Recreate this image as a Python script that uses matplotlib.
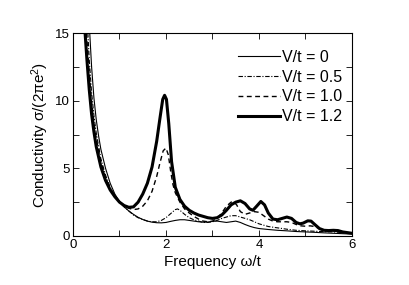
import numpy as np
import matplotlib
matplotlib.use('Agg')
import matplotlib.pyplot as plt

plt.rcParams['font.family'] = ['Liberation Sans', 'DejaVu Sans']
plt.rcParams['mathtext.fontset'] = 'custom'
plt.rcParams['mathtext.rm'] = 'Liberation Sans'
plt.rcParams['mathtext.it'] = 'Liberation Sans'

# V/t = 0
w_v0 = [0.36, 0.40, 0.45, 0.50, 0.55, 0.60, 0.70, 0.80, 0.90, 1.00, 1.10, 1.20, 1.30,
        1.40, 1.50, 1.60, 1.70, 1.80, 1.90, 2.00, 2.10, 2.20, 2.30, 2.40, 2.50, 2.60,
        2.70, 2.80, 2.90, 3.00, 3.10, 3.20, 3.30, 3.40, 3.50, 3.60, 3.70, 3.80, 3.90,
        4.00, 4.20, 4.40, 4.60, 4.80, 5.00, 5.20, 5.40, 5.60, 5.80, 6.00]
s_v0 = [15.0, 12.5, 10.2, 8.6, 7.4, 6.4, 5.0, 3.9, 3.1, 2.55, 2.15, 1.85, 1.6,
        1.38, 1.22, 1.1, 1.02, 0.98, 0.97, 1.0, 1.08, 1.15, 1.2, 1.2, 1.15, 1.1,
        1.05, 1.02, 1.03, 1.08, 1.1, 1.05, 1.0, 1.05, 1.1, 1.0, 0.85, 0.72, 0.62,
        0.55, 0.48, 0.42, 0.38, 0.33, 0.3, 0.27, 0.23, 0.2, 0.17, 0.14]

# V/t = 0.5
w_v05 = [0.32, 0.35, 0.40, 0.45, 0.50, 0.60, 0.70, 0.80, 0.90, 1.00, 1.10, 1.20, 1.30,
         1.40, 1.50, 1.60, 1.70, 1.80, 1.90, 2.00, 2.10, 2.20, 2.25, 2.30, 2.40, 2.50,
         2.60, 2.70, 2.80, 2.90, 3.00, 3.10, 3.20, 3.30, 3.40, 3.50, 3.60, 3.70, 3.80,
         3.90, 4.00, 4.20, 4.40, 4.60, 4.80, 5.00, 5.20, 5.40, 5.60, 5.80, 6.00]
s_v05 = [15.0, 13.0, 10.6, 8.9, 7.6, 5.7, 4.5, 3.6, 2.95, 2.5, 2.15, 1.85, 1.55,
         1.35, 1.22, 1.1, 1.05, 1.05, 1.15, 1.35, 1.65, 1.95, 2.0, 1.9, 1.6, 1.35,
         1.2, 1.1, 1.0, 1.0, 1.05, 1.15, 1.3, 1.4, 1.5, 1.5, 1.4, 1.3, 1.2,
         1.05, 0.9, 0.7, 0.6, 0.5, 0.42, 0.38, 0.35, 0.32, 0.3, 0.25, 0.2]

# V/t = 1.0
w_v10 = [0.29, 0.35, 0.40, 0.45, 0.50, 0.60, 0.70, 0.80, 0.90, 1.00, 1.10, 1.20, 1.30,
         1.40, 1.50, 1.60, 1.70, 1.80, 1.87, 1.94, 2.00, 2.05, 2.10, 2.15, 2.20, 2.30,
         2.40, 2.50, 2.60, 2.70, 2.80, 2.90, 3.00, 3.10, 3.20, 3.30, 3.40, 3.45, 3.52,
         3.60, 3.70, 3.80, 3.90, 4.00, 4.10, 4.20, 4.30, 4.40, 4.50, 4.60, 4.70, 4.80,
         4.90, 5.00, 5.10, 5.20, 5.30, 5.40, 5.50, 5.60, 5.70, 5.80, 5.90, 6.00]
s_v10 = [15.0, 12.0, 9.9, 8.4, 7.2, 5.5, 4.3, 3.5, 2.95, 2.55, 2.25, 2.05, 1.95,
         2.0, 2.2, 2.6, 3.3, 4.4, 5.4, 6.3, 6.5, 6.0, 4.8, 3.8, 3.2, 2.5,
         2.0, 1.7, 1.45, 1.25, 1.1, 1.05, 1.1, 1.3, 1.7, 2.2, 2.5, 2.55, 2.3,
         1.8, 1.6, 1.7, 1.8, 1.75, 1.5, 1.25, 1.1, 1.05, 1.05, 1.05, 1.0, 0.85,
         0.75, 0.72, 0.75, 0.7, 0.55, 0.45, 0.4, 0.38, 0.35, 0.3, 0.25, 0.2]

# V/t = 1.2
w_v12 = [0.26, 0.30, 0.35, 0.40, 0.45, 0.50, 0.60, 0.70, 0.80, 0.90, 1.00, 1.10, 1.20,
         1.30, 1.40, 1.50, 1.60, 1.70, 1.80, 1.87, 1.93, 1.97, 2.01, 2.06, 2.12, 2.20,
         2.30, 2.40, 2.50, 2.60, 2.70, 2.80, 2.90, 3.00, 3.10, 3.20, 3.30, 3.40, 3.50,
         3.60, 3.70, 3.80, 3.87, 3.95, 4.04, 4.12, 4.20, 4.30, 4.40, 4.50, 4.60, 4.70,
         4.80, 4.88, 4.95, 5.05, 5.12, 5.20, 5.30, 5.40, 5.50, 5.60, 5.70, 5.80, 5.90, 6.00]
s_v12 = [15.0, 13.0, 10.8, 9.0, 7.7, 6.6, 5.1, 4.1, 3.4, 2.9, 2.5, 2.25, 2.12,
         2.15, 2.5, 3.1, 3.9, 5.1, 7.0, 8.7, 10.1, 10.4, 10.1, 8.3, 5.5, 3.6,
         2.7, 2.2, 1.9, 1.7, 1.55, 1.45, 1.35, 1.3, 1.35, 1.55, 1.9, 2.3, 2.5,
         2.6, 2.4, 2.0, 1.9, 2.2, 2.55, 2.3, 1.7, 1.25, 1.2, 1.3, 1.4, 1.3,
         1.0, 0.9, 0.95, 1.12, 1.1, 0.85, 0.55, 0.42, 0.4, 0.42, 0.4, 0.3, 0.25, 0.2]

fig = plt.figure(figsize=(4.09, 2.85), dpi=100)
ax = fig.add_axes([0.1785, 0.172, 0.682, 0.712])

ax.plot(w_v0, s_v0, color='black', lw=0.8, label='V/t = 0')
ax.plot(w_v05, s_v05, color='black', lw=0.8, linestyle=(0, (4, 1.5, 1, 1.5)), label='V/t = 0.5')
ax.plot(w_v10, s_v10, color='black', lw=1.0, linestyle=(0, (3.5, 2.5)), label='V/t = 1.0')
ax.plot(w_v12, s_v12, color='black', lw=2.2, label='V/t = 1.2')

ax.set_xlim(0, 6)
ax.set_ylim(0, 15)
ax.set_xticks([0, 2, 4, 6])
ax.set_xticks([1, 3, 5], minor=True)
ax.set_yticks([0, 5, 10, 15])
ax.set_yticks([2.5, 7.5, 12.5], minor=True)
ax.tick_params(which='both', direction='in', top=True, right=True, labelsize=9.5, width=0.6)
ax.tick_params(which='major', length=4, pad=2)
ax.tick_params(which='minor', length=4)
for sp in ax.spines.values():
    sp.set_linewidth(0.8)

ax.set_xlabel('Frequency \u03c9/t', fontsize=11, labelpad=3)
ax.set_ylabel('Conductivity \u03c3/(2\u03c0e$^2$)', fontsize=11, labelpad=3)

ax.legend(loc='upper right', bbox_to_anchor=(1.0, 0.965), frameon=False, fontsize=11.5,
          handlelength=2.6, handletextpad=0.15, labelspacing=0.3, borderaxespad=0.2)

fig.savefig('out.png', dpi=100)
